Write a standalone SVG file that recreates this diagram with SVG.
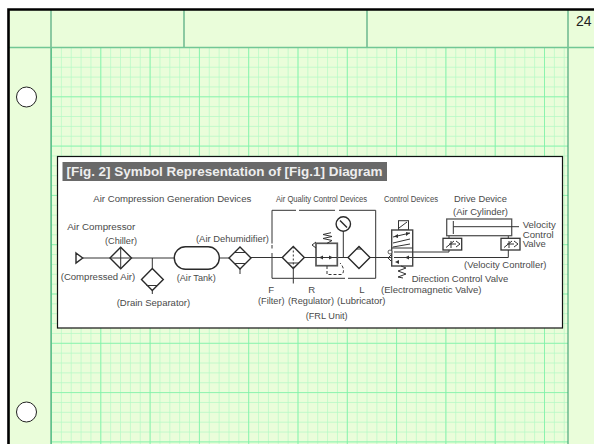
<svg xmlns="http://www.w3.org/2000/svg" width="594" height="444" viewBox="0 0 594 444">
<style>
.t{font-family:"Liberation Sans",Arial,sans-serif;font-size:9.6px;fill:#4a4a4a}
.s{fill:none;stroke:#333;stroke-width:1}
.b{fill:none;stroke:#2a2a2a;stroke-width:1.4}
.w{fill:#fff;stroke:#333;stroke-width:1.3}
.f{fill:#333;stroke:none}
</style>
<defs>
<pattern id="minor" x="51" y="47" width="9.86" height="9.86" patternUnits="userSpaceOnUse"><path d="M0 0V9.86M0 0H9.86" fill="none" stroke="#b5f9c5" stroke-width="1.4"/></pattern>
<pattern id="major" x="51" y="47" width="49.3" height="49.3" patternUnits="userSpaceOnUse"><path d="M0 0V49.3M0 0H49.3" fill="none" stroke="#7df2a6" stroke-width="1.6"/></pattern>
</defs>
<rect width="594" height="444" fill="#fff"/>
<rect x="8" y="9" width="586" height="435" fill="#eafdda"/>
<g id="grid">
<rect x="51" y="47" width="517" height="397" fill="url(#minor)"/>
<rect x="51" y="47" width="517" height="397" fill="url(#major)"/>
<path d="M51 10V444M568 10V444M184 10V47M367 10V47" fill="none" stroke="#3f9f74" stroke-width="1.1"/>
<path d="M8 47.500H594" fill="none" stroke="#72c795" stroke-width="1.300"/>
<path d="M8.500 444V9.500H594" fill="none" stroke="#000" stroke-width="2.600"/>
</g>
<text class="t" x="576" y="26" style="font-size:14px;fill:#222">24</text>
<circle id="hole-top" cx="26.500" cy="97" r="10" fill="#fff" stroke="#222" stroke-width="1"/>
<circle id="hole-bottom" cx="26.500" cy="412" r="10" fill="#fff" stroke="#222" stroke-width="1"/>
<g id="figure">
<rect x="57.500" y="156.500" width="505" height="171.500" fill="#fff" stroke="#111" stroke-width="1.200"/>
<rect x="62.500" y="162" width="324.500" height="19" fill="#696969"/>
<text x="66.500" y="175.500" textLength="316" lengthAdjust="spacingAndGlyphs" style="font-family:'Liberation Sans',Arial,sans-serif;font-size:13.500px;font-weight:bold;fill:#eee">[Fig. 2] Symbol Representation of [Fig.1] Diagram</text>
</g>
<g id="connectors">
<path class="s" d="M83 258H110M131.500 258H174M152.300 258V268M219.300 258H229M251 257.500H283M304.300 257.500H316M337 257.500H348M370 257.500H391.700M412.700 257.500H508.300V250M412.700 252H449V250M449 238V235.700M508.300 238V235.700M343.300 231V257.500"/>
<path class="s" d="M272 243.500V210.300H296M299 210.300H335M339 210.300H375.700V278.300H348M345 278.300H272V253M272 248.500V245"/>
</g>
<g id="compressor"><path class="b" d="M76 253L82.700 258L76 263Z"/></g>
<g id="chiller"><path class="b" d="M120.700 247.200L131.500 258L120.700 268.800L110 258Z"/><path class="s" d="M120.700 247.200V268.800M110 258H131.500"/></g>
<g id="drain-separator"><path class="b" d="M152.300 268.500L163.300 279.500L152.300 290.500L141.500 279.500Z"/><path class="s" d="M146.500 285.500H158M152.300 290.500V294"/></g>
<g id="air-tank"><rect class="b" x="174.300" y="246.700" width="45" height="22.500" rx="11.200"/></g>
<g id="air-dehumidifier"><path class="b" d="M240 247L251 258L240 269L229 258Z"/><path class="s" d="M234.500 252.500H245.500M234.500 263.500H245.500M240 269V274"/></g>
<g id="filter"><path class="b" d="M293.300 246.500L304.300 257.500L293.300 268.500L282.300 257.500Z"/><path class="s" d="M293.300 246.500V268.500" stroke-dasharray="2 2"/><path class="s" d="M288 263H299M293.300 268.500V283.500"/></g>
<g id="regulator">
<rect x="316" y="243.300" width="21.300" height="22.400" fill="#fff" stroke="#555" stroke-width="1.700"/>
<path class="s" d="M316 257.500H337M327 243.300L332 240.500L323 238.500L332 236.500L323 234.500L331 232.700"/>
<path class="s" d="M316 248L312 245L316 242"/>
<path class="f" d="M319 257.500L323 255.500V259.500ZM333 257.500L329 255.500V259.500Z"/>
<path class="s" d="M327 266V274.500H342C345 271 343 266 340 263" stroke-dasharray="3 2"/>
</g>
<g id="gauge"><circle class="b" cx="343.300" cy="224" r="7.200"/><path class="b" d="M340 220.500L347 227.500"/></g>
<g id="lubricator"><path class="b" d="M359 246.500L370 257.500L359 268.500L348 257.500Z"/><path class="s" d="M359 246.500L356.500 249H361.500Z"/></g>
<g id="direction-valve">
<rect x="398.500" y="220.700" width="10" height="9.300" fill="none" stroke="#333"/>
<path class="s" d="M399 228L407 222"/>
<rect x="391.700" y="230" width="21" height="36" fill="#fff" stroke="#444" stroke-width="1.400"/>
<path class="s" d="M391.700 248H412.700M393 237L410 233M393 243L410 239M393 247L410 244M394 257.500H412.700M394 252H412.700"/>
<path class="f" d="M394 236.500L398 234V238ZM410 233L406 232V236ZM395 262L399 260V264ZM405 257.500L409 255.500V259.500Z"/>
<path class="s" d="M401 266L406 268L398 271L406 274L398 277L403 278"/>
<circle cx="390" cy="252" r="2" fill="#fff" stroke="#333" stroke-width=".8"/>
<path class="s" d="M391 255L388 258L391 261"/>
</g>
<g id="air-cylinder">
<rect x="446.700" y="219" width="65" height="16.700" fill="#fff" stroke="#555" stroke-width="1.300"/>
<path class="s" d="M453.300 221V234M453.300 226.700H519" stroke-width="1.200"/>
</g>
<g id="velocity-controller-1">
<rect x="443" y="238.300" width="18.700" height="11.700" fill="#fff" stroke="#333" stroke-width="1.300"/>
<path class="s" d="M446 247.500L454 241M449 244H456M456 241L460 244L456 247M451 248V241"/>
</g>
<g id="velocity-controller-2">
<rect x="501" y="238.300" width="19" height="11.700" fill="#fff" stroke="#333" stroke-width="1.300"/>
<path class="s" d="M504 247.500L512 241M507 244H514M514 241L518 244L514 247M509 248V241"/>
</g>
<g id="labels">
<text class="t" x="93.300" y="202" textLength="158" lengthAdjust="spacingAndGlyphs">Air Compression Generation Devices</text>
<text class="t" x="276" y="202" textLength="91" lengthAdjust="spacingAndGlyphs">Air Quality Control Devices</text>
<text class="t" x="384" y="202" textLength="54" lengthAdjust="spacingAndGlyphs">Control Devices</text>
<text class="t" x="454" y="202" textLength="53" lengthAdjust="spacingAndGlyphs">Drive Device</text>
<text class="t" x="453" y="214.500" textLength="55" lengthAdjust="spacingAndGlyphs">(Air Cylinder)</text>
<text class="t" x="67.300" y="230" textLength="68" lengthAdjust="spacingAndGlyphs">Air Compressor</text>
<text class="t" x="105" y="244.300" textLength="32" lengthAdjust="spacingAndGlyphs">(Chiller)</text>
<text class="t" x="196" y="242" textLength="73" lengthAdjust="spacingAndGlyphs">(Air Dehumidifier)</text>
<text class="t" x="60.700" y="280" textLength="74.500" lengthAdjust="spacingAndGlyphs">(Compressed Air)</text>
<text class="t" x="176.700" y="280.700" textLength="39" lengthAdjust="spacingAndGlyphs">(Air Tank)</text>
<text class="t" x="116.700" y="305.700" textLength="73.500" lengthAdjust="spacingAndGlyphs">(Drain Separator)</text>
<text class="t" x="268.300" y="293.300">F</text>
<text class="t" x="258" y="304" textLength="26.500" lengthAdjust="spacingAndGlyphs">(Filter)</text>
<text class="t" x="308.300" y="293.300">R</text>
<text class="t" x="288" y="304" textLength="46" lengthAdjust="spacingAndGlyphs">(Regulator)</text>
<text class="t" x="359.300" y="293.300">L</text>
<text class="t" x="337" y="304" textLength="48.500" lengthAdjust="spacingAndGlyphs">(Lubricator)</text>
<text class="t" x="305.700" y="319.300" textLength="42" lengthAdjust="spacingAndGlyphs">(FRL Unit)</text>
<text class="t" x="411.700" y="281.700" textLength="96.500" lengthAdjust="spacingAndGlyphs">Direction Control Valve</text>
<text class="t" x="381" y="293.300" textLength="100.500" lengthAdjust="spacingAndGlyphs">(Electromagnetic Valve)</text>
<text class="t" x="464" y="268.300" textLength="82.500" lengthAdjust="spacingAndGlyphs">(Velocity Controller)</text>
<text class="t" x="522.700" y="228" textLength="33" lengthAdjust="spacingAndGlyphs">Velocity</text>
<text class="t" x="522.700" y="237.500" textLength="31" lengthAdjust="spacingAndGlyphs">Control</text>
<text class="t" x="522.700" y="247" textLength="23" lengthAdjust="spacingAndGlyphs">Valve</text>
</g>
</svg>
